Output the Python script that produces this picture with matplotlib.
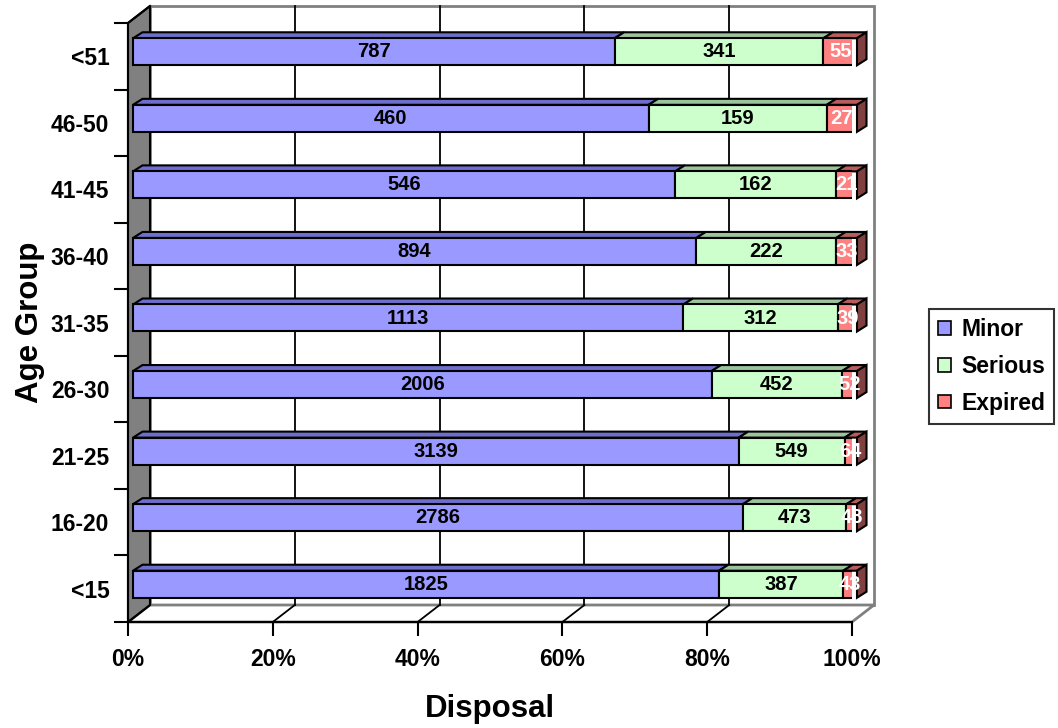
import numpy as np
import matplotlib
matplotlib.use("Agg")
import matplotlib.pyplot as plt
from matplotlib.patches import Polygon, Patch

plt.rcParams['font.family'] = ['Liberation Sans', 'DejaVu Sans']
plt.rcParams['font.weight'] = 'bold'

# data (bottom to top)
groups = ["<15", "16-20", "21-25", "26-30", "31-35", "36-40", "41-45", "46-50", "<51"]
minor = [1825, 2786, 3139, 2006, 1113, 894, 546, 460, 787]
serious = [387, 473, 549, 452, 312, 222, 162, 159, 341]
expired = [43, 48, 64, 52, 39, 33, 21, 27, 55]
series_names = ["Minor", "Serious", "Expired"]

front_col = ["#9999FF", "#CCFFCC", "#FF8080"]
top_col = ["#6E6ECC", "#9CC49C", "#B85C5C"]
side_col = "#804040"
label_col = ["black", "black", "white"]

fig = plt.figure(figsize=(10.58, 7.28), dpi=100)
W, H = 1058, 728
ax = fig.add_axes([128 / W, (H - 622) / H, 724 / W, 599 / H])
n = len(groups)
ax.set_xlim(0, 100)
ax.set_ylim(-0.5, n - 0.5)

# pixel -> data unit factors
px_x = 100 / 724
px_y = n / 599

# wall depth offset
DX, DY = 22 * px_x, 17 * px_y
# bar front offset and bar depth
FX, FY = 5 * px_x, 4.5 * px_y
BX, BY = 9.5 * px_x, 6 * px_y
bh = 27 * px_y


def w(x, y, d):
    return (x + d * DX, y + d * DY)


def b(x, y, back):
    return (x + FX + back * BX, y + FY + back * BY)


# walls
yb, yt = -0.5, n - 0.5
ax.add_patch(Polygon([w(0, yb, 1), w(100, yb, 1), w(100, yt, 1), w(0, yt, 1)],
                     closed=True, fc="white", ec="#808080", lw=2, clip_on=False, zorder=0))
ax.add_patch(Polygon([w(0, yb, 0), w(0, yb, 1), w(0, yt, 1), w(0, yt, 0)],
                     closed=True, fc="#808080", ec="black", lw=1.5, clip_on=False, zorder=1))
ax.add_patch(Polygon([w(0, yb, 0), w(100, yb, 0), w(100, yb, 1), w(0, yb, 1)],
                     closed=True, fc="white", ec="#808080", lw=2, clip_on=False, zorder=0.5))
for gx in [20, 40, 60, 80]:
    ax.plot(*zip(w(gx, yb, 1), w(gx, yt, 1)), color="black", lw=1.3, clip_on=False, zorder=1)
for gx in [0, 20, 40, 60, 80]:
    ax.plot(*zip(w(gx, yb, 0), w(gx, yb, 1)), color="black", lw=1.3, clip_on=False, zorder=1)
ax.plot(*zip(w(0, yt, 0), w(0, yt, 1)), color="black", lw=1.5, clip_on=False, zorder=1)

# bars
vals = np.array([minor, serious, expired], dtype=float)
pct = vals / vals.sum(axis=0) * 100
ypos = np.arange(n)
left = np.zeros(n)
for s in range(3):
    ax.barh(ypos + FY, pct[s], left=left + FX, height=bh,
            color=front_col[s], edgecolor="black", lw=1.5, zorder=3)
    for i in range(n):
        l, r = left[i], left[i] + pct[s][i]
        top = i + bh / 2
        ax.add_patch(Polygon([b(l, top, 0), b(r, top, 0), b(r, top, 1), b(l, top, 1)],
                             closed=True, fc=top_col[s], ec="black", lw=1.5, clip_on=False, zorder=2.5))
        ax.text(*b((l + r) / 2, i, 0), f"{int(vals[s][i])}", ha="center", va="center",
                fontsize=14.5, fontweight="bold", color=label_col[s], zorder=5)
    left = left + pct[s]
for i in range(n):
    bot, top = i - bh / 2, i + bh / 2
    ax.add_patch(Polygon([b(100, bot, 0), b(100, top, 0), b(100, top, 1), b(100, bot, 1)],
                         closed=True, fc=side_col, ec="black", lw=1.5, clip_on=False, zorder=2.5))

# axes styling
for sp in ["top", "right"]:
    ax.spines[sp].set_visible(False)
ax.spines["left"].set_linewidth(1.5)
ax.spines["bottom"].set_linewidth(1.5)
ax.patch.set_visible(False)
ax.set_xticks([0, 20, 40, 60, 80, 100])
ax.set_xticklabels(["0%", "20%", "40%", "60%", "80%", "100%"], fontsize=16.5, fontweight="bold")
ax.set_yticks(np.arange(n + 1) - 0.5, minor=False)
ax.set_yticklabels([])
ax.set_yticks(ypos, minor=True)
ax.set_yticklabels(groups, minor=True, fontsize=16.5, fontweight="bold")
ax.tick_params(axis="y", which="major", length=10, width=1.5)
ax.tick_params(axis="y", which="minor", length=0, pad=13.5)
ax.tick_params(axis="x", length=10, width=1.5, pad=9)
ax.set_xlabel("Disposal", fontsize=22.5, fontweight="bold")
ax.set_ylabel("Age Group", fontsize=22.5, fontweight="bold")
ax.xaxis.set_label_coords(0.5, (622 - 709) / 599)
ax.xaxis.label.set_va("center")
ax.yaxis.set_label_coords((30 - 128) / 724, 0.5)
ax.yaxis.label.set_va("center")

handles = [Patch(fc=front_col[s], ec="black", lw=1.2) for s in range(3)]
leg = fig.legend(handles, series_names, loc="upper left", bbox_to_anchor=(929 / W, 1 - 309 / H),
                 frameon=True, fancybox=False, edgecolor="black",
                 handlelength=0.55, handleheight=0.55, handletextpad=0.45, labelspacing=0.6,
                 borderpad=0.4, borderaxespad=0, prop={"weight": "bold", "size": 16.5})
leg.get_frame().set_linewidth(1.5)

fig.savefig("out.png", dpi=100)
